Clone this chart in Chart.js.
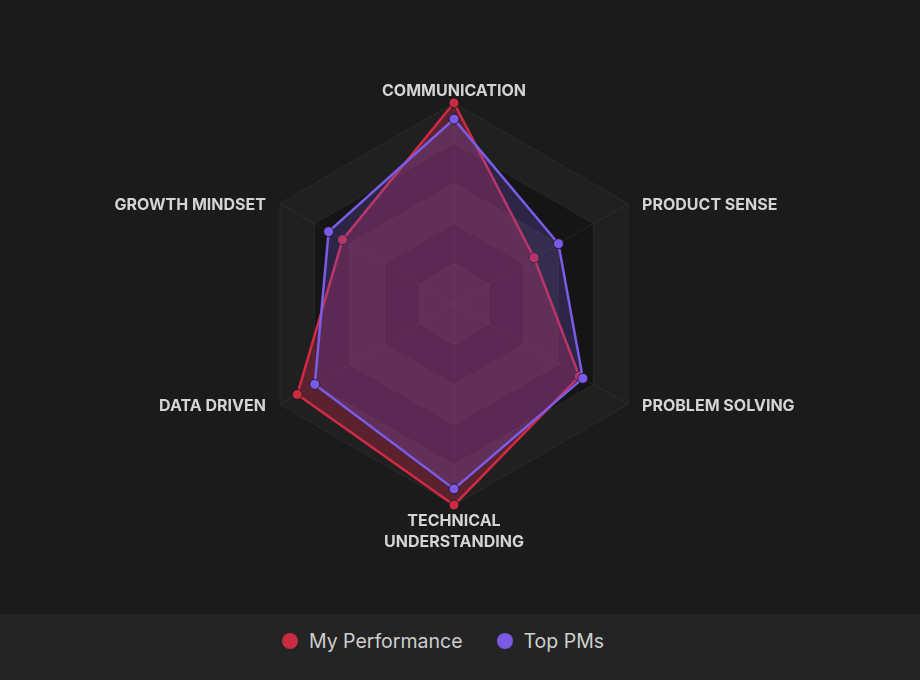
<!DOCTYPE html>
<html>
<head>
<meta charset="utf-8">
<script src="https://cdn.jsdelivr.net/npm/chart.js@4/dist/chart.umd.min.js"></script>
<style>
  html, body { margin: 0; padding: 0; background: #1b1b1b; }
  #wrap { width: 920px; height: 680px; position: relative; overflow: hidden; }
  #chartBox { position: absolute; left: 0; top: 0; width: 920px; height: 614px; background: #1b1b1b; }
  #legend { position: absolute; left: 0; top: 614px; width: 886px; padding-right: 34px; height: 54px; padding-bottom: 12px; background: #242424;
    display: flex; align-items: center; justify-content: center; font-family: Inter, "Noto Sans", sans-serif;
    font-size: 19.5px; color: #cfcfcf; }
  .item { display: flex; align-items: center; }
  .dot { width: 16px; height: 16px; border-radius: 50%; margin-right: 11px; }
  .item + .item { margin-left: 34px; }
</style>
</head>
<body>
<div id="wrap">
  <div id="chartBox"><canvas id="c" width="920" height="614"></canvas></div>
  <div id="legend"></div>
</div>
<script>
const categories = ["COMMUNICATION", "PRODUCT SENSE", "PROBLEM SOLVING", ["TECHNICAL", "UNDERSTANDING"], "DATA DRIVEN", "GROWTH MINDSET"];
const seriesNames = ["My Performance", "Top PMs"];
const myPerformance = [100, 46, 72, 100, 90, 64];
const topPMs = [92, 60, 74, 92, 80, 72];
const ringSteps = [20, 40, 60, 80, 100];

const redLine = "#d02a45", redFill = "rgba(210,40,75,0.33)", redDot = "#c72c40";
const purpleLine = "#7b5ce8", purpleFill = "rgba(120,90,230,0.23)", purpleDot = "#7b5ae6";

const ringPlugin = {
  id: 'rings',
  beforeDraw(chart) {
    const s = chart.scales.r, ctx = chart.ctx, n = categories.length;
    ctx.save();
    for (let k = ringSteps.length - 1; k >= 0; k--) {
      ctx.beginPath();
      for (let i = 0; i < n; i++) {
        const p = s.getPointPositionForValue(i, ringSteps[k]);
        if (i === 0) ctx.moveTo(p.x, p.y); else ctx.lineTo(p.x, p.y);
      }
      ctx.closePath();
      ctx.fillStyle = (k % 2 === 0) ? '#202020' : '#151515';
      ctx.fill();
    }
    ctx.restore();
  },
  afterDraw(chart) {
    const s = chart.scales.r, ctx = chart.ctx, n = categories.length;
    ctx.save();
    ctx.font = '700 16px Inter, "Noto Sans", sans-serif';
    ctx.fillStyle = '#d4d4d4';
    ctx.textBaseline = 'middle';
    for (let i = 0; i < n; i++) {
      const p = s.getPointPositionForValue(i, s.max);
      const lines = Array.isArray(categories[i]) ? categories[i] : [categories[i]];
      const lh = 21;
      let x = p.x, y = p.y;
      const dx = p.x - s.xCenter;
      if (Math.abs(dx) < 1) {
        ctx.textAlign = 'center';
        if (p.y < s.yCenter) y = p.y - 12 - (lines.length - 1) * lh;
        else y = p.y + 16;
      } else if (dx > 0) {
        ctx.textAlign = 'left'; x = p.x + 14; y = p.y + 2 - (lines.length - 1) * lh / 2;
      } else {
        ctx.textAlign = 'right'; x = p.x - 14; y = p.y + 2 - (lines.length - 1) * lh / 2;
      }
      lines.forEach((t, j) => ctx.fillText(t, x, y + j * lh));
    }
    ctx.restore();
  }
};

new Chart(document.getElementById('c'), {
  type: 'radar',
  data: {
    labels: categories,
    datasets: [
      { label: seriesNames[0], data: myPerformance, order: 1,
        borderColor: redLine, backgroundColor: redFill, borderWidth: 2.5,
        pointBackgroundColor: redDot, pointBorderColor: 'rgba(25,20,25,0.85)', pointBorderWidth: 1,
        pointRadius: 5, fill: true },
      { label: seriesNames[1], data: topPMs, order: 0,
        borderColor: purpleLine, backgroundColor: purpleFill, borderWidth: 2.5,
        pointBackgroundColor: purpleDot, pointBorderColor: 'rgba(25,20,35,0.85)', pointBorderWidth: 1,
        pointRadius: 5, fill: true }
    ]
  },
  options: {
    responsive: false,
    animation: false,
    devicePixelRatio: 1,
    layout: { padding: { top: 103, bottom: 109, left: 0, right: 12 } },
    plugins: { legend: { display: false }, tooltip: { enabled: false } },
    elements: { line: { tension: 0 } },
    scales: {
      r: {
        min: 0, max: 100, beginAtZero: true,
        ticks: { display: false, stepSize: 20 },
        grid: { color: 'rgba(255,255,255,0.06)', lineWidth: 1 },
        angleLines: { color: 'rgba(255,255,255,0.06)', lineWidth: 1 },
        pointLabels: { display: false }
      }
    }
  },
  plugins: [ringPlugin]
});

const legendEl = document.getElementById('legend');
[[seriesNames[0], redDot], [seriesNames[1], purpleDot]].forEach(([name, col]) => {
  const it = document.createElement('div'); it.className = 'item';
  const d = document.createElement('span'); d.className = 'dot'; d.style.background = col;
  const t = document.createElement('span'); t.textContent = name;
  it.appendChild(d); it.appendChild(t); legendEl.appendChild(it);
});
</script>
</body>
</html>
